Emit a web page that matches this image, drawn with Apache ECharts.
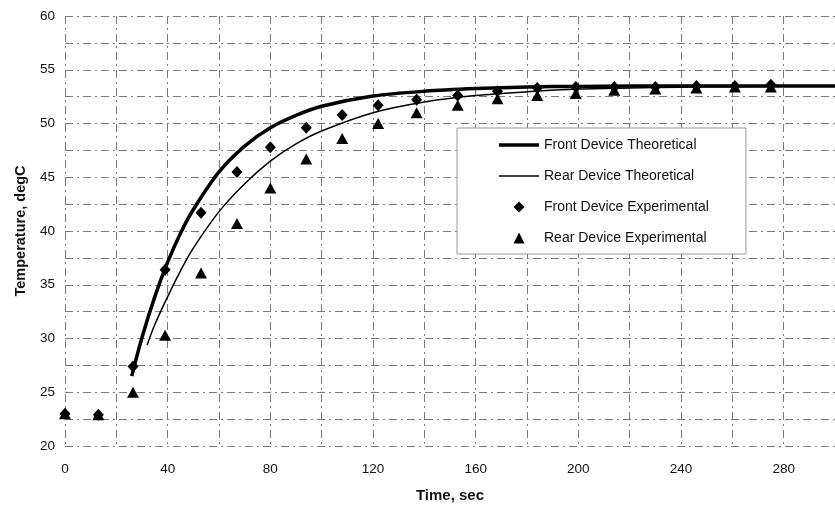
<!DOCTYPE html>
<html>
<head>
<meta charset="utf-8">
<script src="https://cdn.jsdelivr.net/npm/echarts@6/dist/echarts.min.js"></script>
<style>
  html, body { margin: 0; padding: 0; background: #fff; }
  #chart { width: 835px; height: 508px; }
</style>
</head>
<body>
<div id="chart"></div>
<script>
// measured points, time (sec) / temperature (degC)
var frontExpTime = [0, 13, 26.5, 39, 53, 67, 80, 94, 108, 122, 137, 153, 168.5, 184, 199, 214, 230, 246, 261, 275];
var frontExpTemp = [23, 22.9, 27.4, 36.4, 41.7, 45.5, 47.8, 49.6, 50.8, 51.7, 52.2, 52.6, 53.0, 53.3, 53.4, 53.4, 53.4, 53.5, 53.5, 53.6];

var rearExpTime = [0, 13, 26.5, 39, 53, 67, 80, 94, 108, 122, 137, 153, 168.5, 184, 199, 214, 230, 246, 261, 275];
var rearExpTemp = [23, 22.9, 25.0, 30.3, 36.1, 40.7, 44.0, 46.7, 48.6, 50.0, 51.0, 51.7, 52.3, 52.6, 52.8, 53.1, 53.2, 53.3, 53.4, 53.4];

// theoretical curves
var frontTheoTime = [26, 30, 35, 40, 45, 50, 60, 70, 80, 90, 100, 120, 140, 160, 180, 200, 240, 300];
var frontTheoTemp = [26.5, 30.1, 33.9, 37.1, 39.8, 42.0, 45.5, 47.9, 49.6, 50.75, 51.6, 52.55, 53.0, 53.25, 53.4, 53.45, 53.5, 53.5];

var rearTheoTime = [32, 35, 40, 45, 50, 60, 70, 80, 90, 100, 120, 140, 160, 180, 200, 220, 240, 260, 300];
var rearTheoTemp = [29.4, 31.3, 33.9, 36.3, 38.4, 41.8, 44.4, 46.5, 48.1, 49.3, 51.0, 52.0, 52.6, 52.95, 53.2, 53.3, 53.38, 53.43, 53.48];

var seriesNames = ['Front Device Theoretical', 'Rear Device Theoretical', 'Front Device Experimental', 'Rear Device Experimental'];

function pairs(xs, ys) {
    var out = [];
    for (var i = 0; i < xs.length; i++) {
        out.push([xs[i], ys[i]]);
    }
    return out;
}

var gridLine = {
    show: true,
    lineStyle: { color: '#7a7a7a', width: 1, type: [8, 4, 2, 4] }
};
var fontFam = '"Liberation Sans", Arial, sans-serif';

// legend icons as paths so they keep their shape inside the 40px slot
var legendIcons = [
    'path://M0,0L40,0L40,3.5L0,3.5Z',
    'path://M0,0L40,0L40,1.4L0,1.4Z',
    'path://M5,0L10,5L5,10L0,5Z',
    'path://M5,0L10,10L0,10Z'
];

var chart = echarts.init(document.getElementById('chart'));
chart.setOption({
    animation: false,
    backgroundColor: '#fff',
    textStyle: { fontFamily: fontFam },
    grid: { left: 65, right: -8, top: 16, bottom: 61, containLabel: false },
    legend: {
        orient: 'vertical',
        left: 457,
        top: 128,
        padding: [10, 37, 9, 42],
        itemWidth: 40,
        itemHeight: 11,
        itemGap: 17,
        symbolKeepAspect: true,
        backgroundColor: '#fff',
        borderColor: '#999',
        borderWidth: 1,
        textStyle: { color: '#111', fontSize: 14, fontFamily: fontFam },
        data: seriesNames.map(function(n, i) {
            return { name: n, icon: legendIcons[i], itemStyle: { color: '#000' } };
        })
    },
    xAxis: {
        type: 'value',
        min: 0,
        max: 300,
        interval: 40,
        name: 'Time, sec',
        nameLocation: 'middle',
        nameGap: 42,
        nameTextStyle: { fontWeight: 'bold', fontSize: 15, color: '#111' },
        axisLine: { show: false },
        axisTick: { show: false },
        axisLabel: { color: '#111', fontSize: 13.5, margin: 16, showMaxLabel: false },
        splitLine: gridLine,
        minorTick: { show: false, splitNumber: 2 },
        minorSplitLine: gridLine
    },
    yAxis: {
        type: 'value',
        min: 20,
        max: 60,
        interval: 5,
        name: 'Temperature, degC',
        nameLocation: 'middle',
        nameGap: 37,
        nameTextStyle: { fontWeight: 'bold', fontSize: 14.5, color: '#111' },
        axisLine: { show: false },
        axisTick: { show: false },
        axisLabel: { color: '#111', fontSize: 13.5, margin: 10 },
        splitLine: gridLine,
        minorTick: { show: false, splitNumber: 2 },
        minorSplitLine: gridLine
    },
    series: [
        {
            name: seriesNames[0],
            type: 'line',
            data: pairs(frontTheoTime, frontTheoTemp),
            smooth: 0.3,
            showSymbol: false,
            symbol: 'none',
            color: '#000',
            lineStyle: { color: '#000', width: 3.5 },
            z: 3
        },
        {
            name: seriesNames[1],
            type: 'line',
            data: pairs(rearTheoTime, rearTheoTemp),
            smooth: 0.3,
            showSymbol: false,
            symbol: 'none',
            color: '#000',
            lineStyle: { color: '#000', width: 1.5 },
            z: 3
        },
        {
            name: seriesNames[2],
            type: 'scatter',
            data: pairs(frontExpTime, frontExpTemp),
            symbol: 'diamond',
            symbolSize: [11, 12],
            itemStyle: { color: '#000', opacity: 1 },
            z: 4
        },
        {
            name: seriesNames[3],
            type: 'scatter',
            data: pairs(rearExpTime, rearExpTemp),
            symbol: 'triangle',
            symbolSize: [12, 11],
            itemStyle: { color: '#000', opacity: 1 },
            z: 4
        }
    ]
});
</script>
</body>
</html>
